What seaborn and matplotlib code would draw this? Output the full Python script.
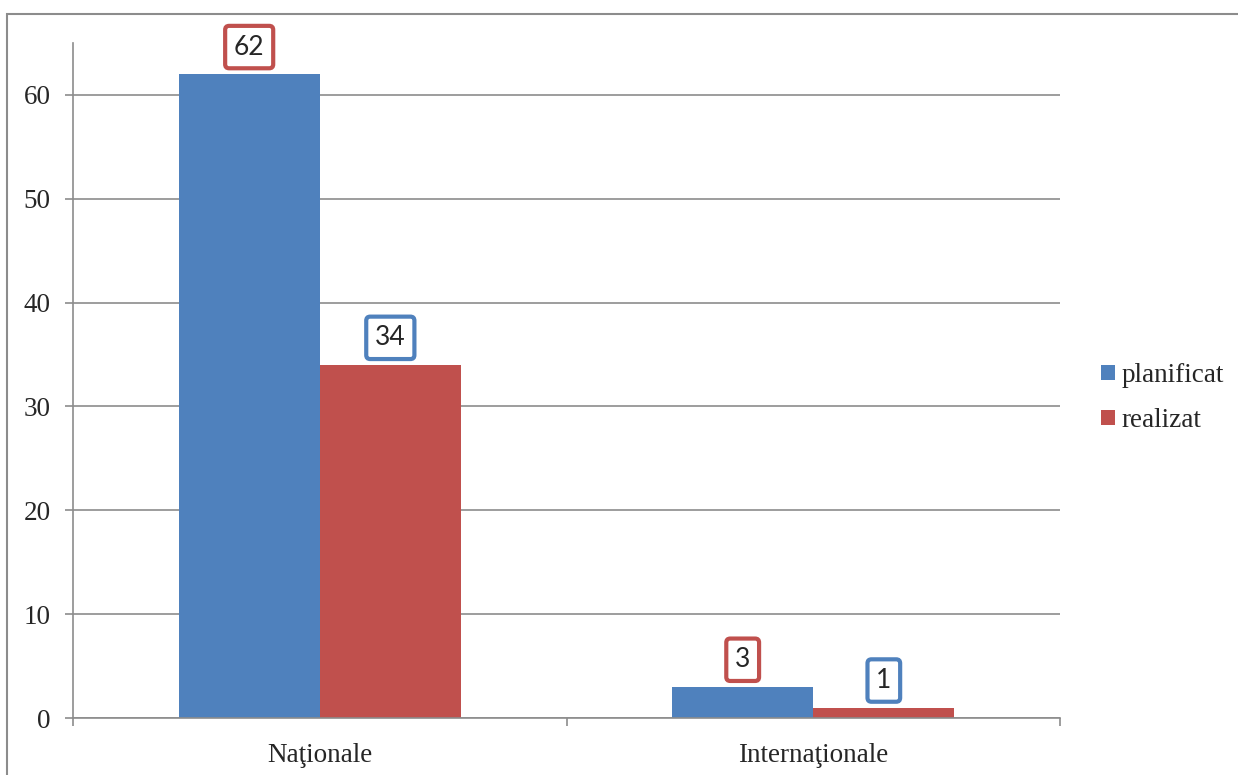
import pandas as pd
import matplotlib.pyplot as plt
import seaborn as sns
from matplotlib.patches import Rectangle

# date din grafic
categorii = ["Naţionale", "Internaţionale"]
serii = ["planificat", "realizat"]
planificat = [62, 3]
realizat = [34, 1]

culori = ["#4F81BD", "#C0504D"]
gri = "#8C8C8C"

df = pd.DataFrame({
    "categorie": categorii * 2,
    "serie": [serii[0]] * len(categorii) + [serii[1]] * len(categorii),
    "valoare": planificat + realizat,
})

sns.set_style("white")
plt.rcParams["font.family"] = ["Liberation Serif", "DejaVu Serif"]

fig = plt.figure(figsize=(12.38, 7.75), dpi=100)
ax = fig.add_axes([73 / 1238, 1 - 718 / 775, (1060 - 73) / 1238, (718 - 43) / 775])

sns.barplot(data=df, x="categorie", y="valoare", hue="serie", palette=culori,
            width=0.572, saturation=1, linewidth=0, ax=ax)

ax.set_ylim(0, 65)
ax.set_xlim(-0.5, 1.5)
ax.set_yticks(range(0, 61, 10))
ax.set_xlabel("")
ax.set_ylabel("")
ax.yaxis.grid(True, color=gri, linewidth=1.2)
ax.set_axisbelow(True)
for s in ["top", "right"]:
    ax.spines[s].set_visible(False)
for s in ["left", "bottom"]:
    ax.spines[s].set_color(gri)
    ax.spines[s].set_linewidth(1.2)

ax.tick_params(axis="y", length=6, width=1.2, color=gri, pad=10, labelsize=19.5, left=True)
ax.tick_params(axis="x", which="major", length=0, pad=18, labelsize=19.5)
ax.set_xticks([-0.5, 0.5, 1.5], minor=True)
ax.tick_params(axis="x", which="minor", length=6, width=1.2, color=gri, bottom=True)

# etichete cu chenar (culoarea celeilalte serii)
for i, cont in enumerate(ax.containers):
    margine = culori[1 - i]
    for bar, val in zip(cont.patches, cont.datavalues):
        ax.annotate(f"{val:g}", (bar.get_x() + bar.get_width() / 2, bar.get_height()),
                    xytext=(0, 10.5), textcoords="offset points", ha="center", va="bottom",
                    fontsize=19, family=["Lato", "DejaVu Sans"],
                    bbox=dict(boxstyle="round,pad=0.33,rounding_size=0.15",
                              fc="white", ec=margine, lw=3))

handles, labels = ax.get_legend_handles_labels()
ax.get_legend().remove()
ax.legend(handles, labels, loc="center left", bbox_to_anchor=(1101 / 1238, 1 - 398 / 775),
          bbox_transform=fig.transFigure, frameon=False, fontsize=19.5,
          handlelength=0.5, handleheight=0.5, handletextpad=0.25,
          labelspacing=0.75, borderpad=0, borderaxespad=0)

# chenarul exterior
fig.patches.append(Rectangle((7 / 1238, -0.1), 2, 1.1 - 14 / 775, transform=fig.transFigure,
                             fill=False, ec=gri, lw=1.5))

fig.savefig("out.png", dpi=100)
